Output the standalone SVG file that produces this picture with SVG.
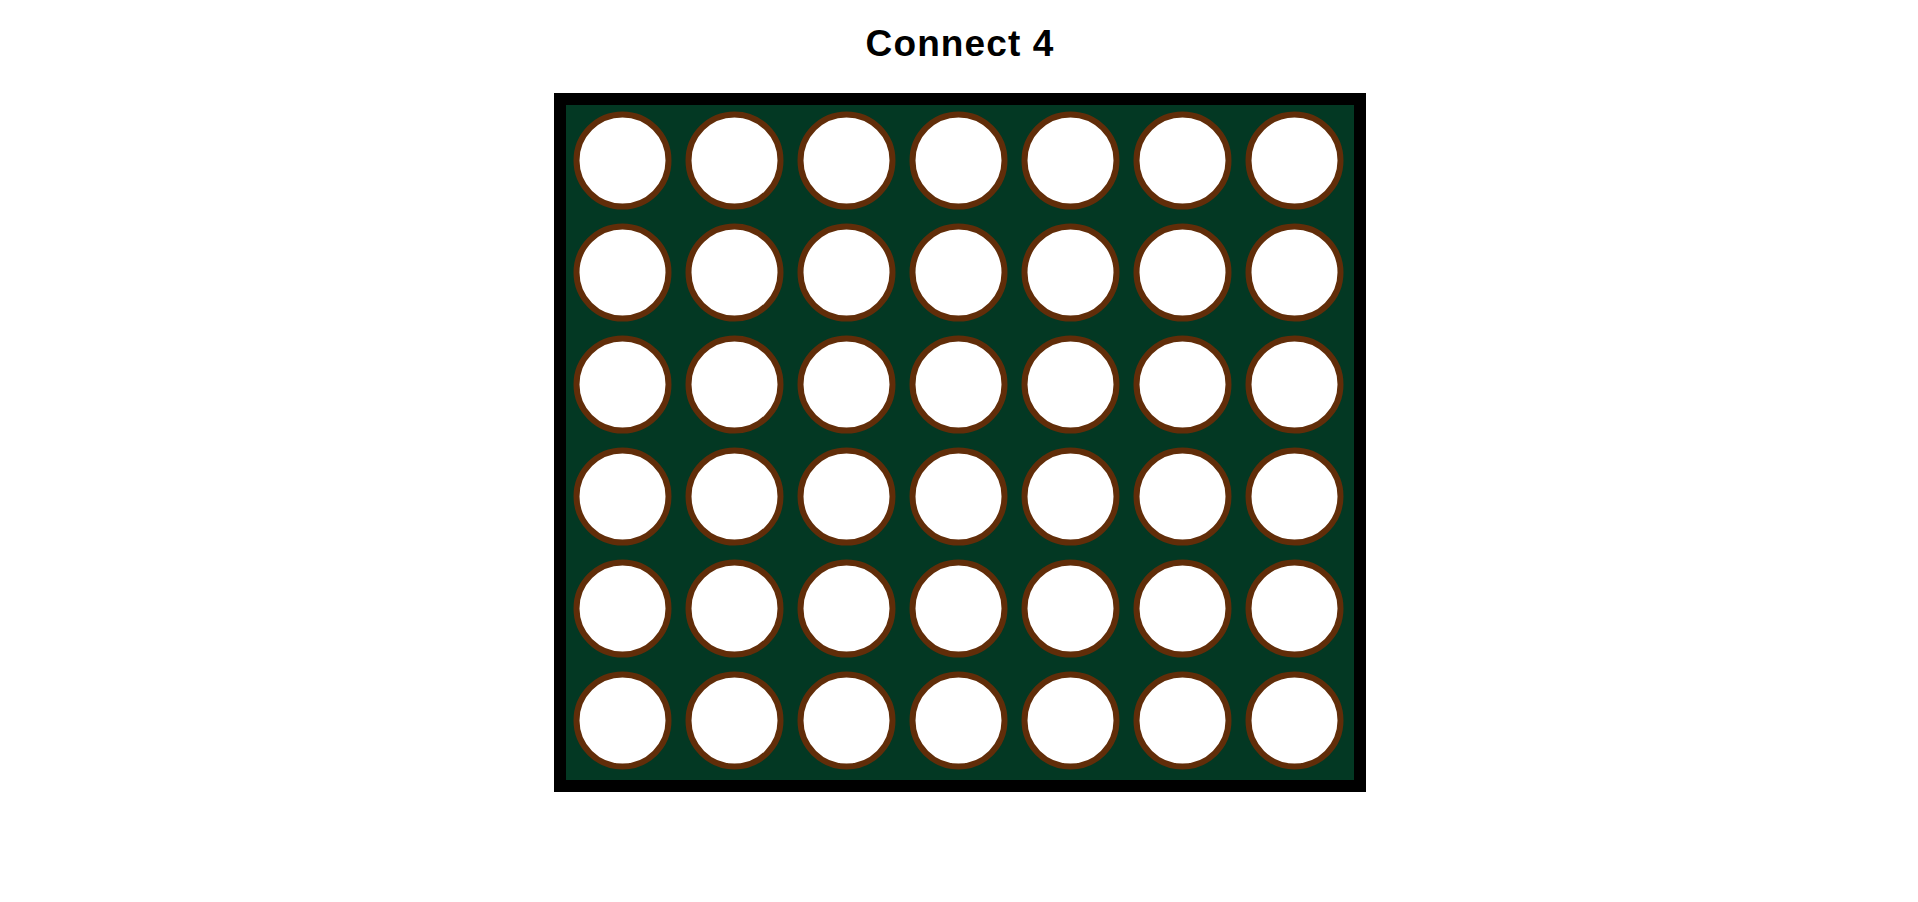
<svg xmlns="http://www.w3.org/2000/svg" width="1918" height="902" viewBox="0 0 1918 902">
<style>
.title{font-family:"Liberation Sans",Arial,sans-serif;font-weight:bold;font-size:37px;letter-spacing:1.1px;fill:#000;text-anchor:middle}
.hole{fill:#fff;stroke:#612d09;stroke-width:6}
</style>
<defs>
<circle id="h" r="46" class="hole"/>
</defs>
<rect width="1918" height="902" fill="#fff"/>
<text class="title" x="960" y="55.5">Connect 4</text>
<g id="board">
<rect x="560" y="99" width="800" height="687" fill="#033823" stroke="#000" stroke-width="12"/>
</g>
<g id="holes">
<g id="row0" transform="translate(0,160.5)">
<use href="#h" x="622.5"/><use href="#h" x="734.5"/><use href="#h" x="846.5"/><use href="#h" x="958.5"/><use href="#h" x="1070.5"/><use href="#h" x="1182.5"/><use href="#h" x="1294.5"/>
</g>
<g id="row1" transform="translate(0,272.5)">
<use href="#h" x="622.5"/><use href="#h" x="734.5"/><use href="#h" x="846.5"/><use href="#h" x="958.5"/><use href="#h" x="1070.5"/><use href="#h" x="1182.5"/><use href="#h" x="1294.5"/>
</g>
<g id="row2" transform="translate(0,384.5)">
<use href="#h" x="622.5"/><use href="#h" x="734.5"/><use href="#h" x="846.5"/><use href="#h" x="958.5"/><use href="#h" x="1070.5"/><use href="#h" x="1182.5"/><use href="#h" x="1294.5"/>
</g>
<g id="row3" transform="translate(0,496.5)">
<use href="#h" x="622.5"/><use href="#h" x="734.5"/><use href="#h" x="846.5"/><use href="#h" x="958.5"/><use href="#h" x="1070.5"/><use href="#h" x="1182.5"/><use href="#h" x="1294.5"/>
</g>
<g id="row4" transform="translate(0,608.5)">
<use href="#h" x="622.5"/><use href="#h" x="734.5"/><use href="#h" x="846.5"/><use href="#h" x="958.5"/><use href="#h" x="1070.5"/><use href="#h" x="1182.5"/><use href="#h" x="1294.5"/>
</g>
<g id="row5" transform="translate(0,720.5)">
<use href="#h" x="622.5"/><use href="#h" x="734.5"/><use href="#h" x="846.5"/><use href="#h" x="958.5"/><use href="#h" x="1070.5"/><use href="#h" x="1182.5"/><use href="#h" x="1294.5"/>
</g>
</g>
</svg>
